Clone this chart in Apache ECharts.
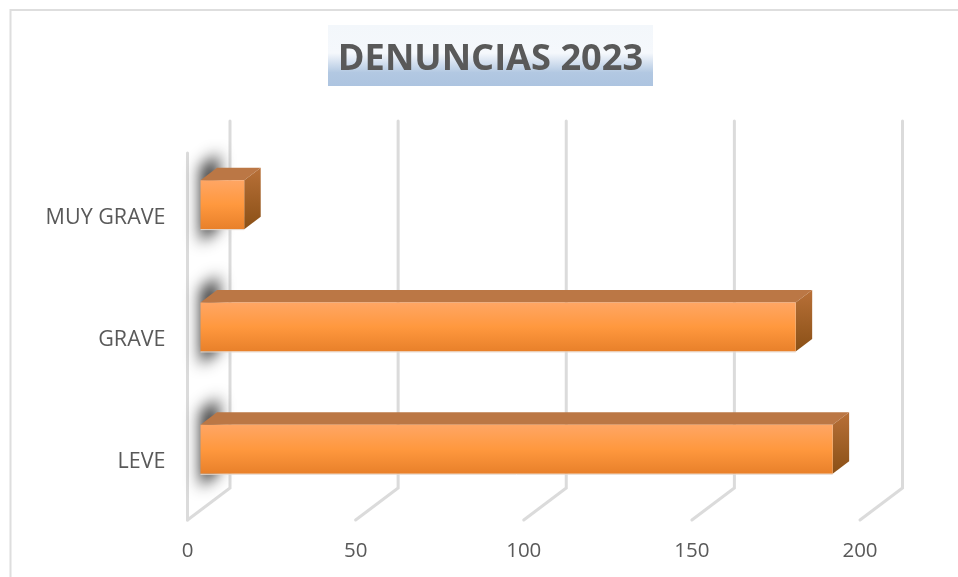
<!DOCTYPE html>
<html><head><meta charset="utf-8">
<style>html,body{margin:0;padding:0;background:#fff}#c{width:958px;height:577px}</style>
<script src="https://cdn.jsdelivr.net/npm/echarts@6/dist/echarts.min.js"></script>
</head><body><div id="c"></div>
<script>
const categories = ['LEVE', 'GRAVE', 'MUY GRAVE'];
const values = [188, 177, 13];
const xTicks = [0, 50, 100, 150, 200];
const titleText = 'DENUNCIAS 2023';

const grad = (x0,y0,x1,y1,stops)=>new echarts.graphic.LinearGradient(x0,y0,x1,y1,stops.map((c,i)=>({offset:c[0],color:c[1]})));
const DX = 42.5, DY = -32;          // full depth of the 3D box
const BX = 13, BY = -9.5;           // front plane of the bars within the box
const TX = 16.5, TY = -12.5;        // bar depth
const OFF = 3000;                   // the blur source sits off canvas, only its shadow shows
const LINE = {stroke:'#dbdbdb', lineWidth:3, lineCap:'round'};

function renderGrid(params, api){
  const v = api.value(0);
  const p = api.coord([v, 0]);
  const cs = params.coordSys;
  const top = cs.y, bottom = cs.y + cs.height;
  const pts = [[p[0], bottom], [p[0]+DX, bottom+DY], [p[0]+DX, top+DY]];
  const children = [{type:'polyline', shape:{points:pts}, style:{...LINE, fill:null}}];
  if (v === 0) children.push({type:'line', shape:{x1:p[0],y1:bottom,x2:p[0],y2:top}, style:LINE});
  return {type:'group', children};
}
function renderBar(params, api){
  const val = api.value(0), cat = api.value(1);
  const p0 = api.coord([0, cat]);
  const p1 = api.coord([val, cat]);
  const band = api.size([0, 1])[1];
  const h = band * 0.4;
  const x0 = p0[0] + BX, x1 = p1[0] + BX;
  const y0 = p0[1] + BY - h/2, y1 = y0 + h;
  const sh = [[x0+18,y0-27],[x0+18,y1-1],[x0,y1+13],[x0,y0-13]].map(q=>[q[0]-OFF,q[1]]);
  return {type:'group', children:[
    {type:'polygon', silent:true, shape:{points:sh},
     style:{fill:'#333', shadowBlur:15, shadowOffsetX:OFF, shadowColor:'rgba(45,45,45,1)'}},
    {type:'polygon', shape:{points:[[x0,y0],[x0+TX,y0+TY],[x1+TX,y0+TY],[x1,y0]]},
     style:{fill:'#bb7745'}},
    {type:'polygon', shape:{points:[[x1,y0],[x1+TX,y0+TY],[x1+TX,y1+TY],[x1,y1]]},
     style:{fill:grad(0,0,0,1,[[0,'#b87038'],[1,'#8a5016']])}},
    {type:'rect', shape:{x:x0,y:y0,width:x1-x0,height:h},
     style:{fill:grad(0,0,0,1,[[0,'#ffa664'],[0.5,'#ff983e'],[1,'#e8802a']])}},
    {type:'line', shape:{x1:x0,y1:y1+0.5,x2:x1,y2:y1+0.5}, style:{stroke:'#e6d8cc',lineWidth:1}}
  ]};
}

const chart = echarts.init(document.getElementById('c'), null, {renderer:'canvas'});
chart.setOption({
  animation:false,
  backgroundColor:'#fff',
  title:{text:titleText, left:485.5, top:37, textAlign:'center',
    textStyle:{fontFamily:'Open Sans', fontWeight:700, fontSize:36.2, color:'#595959'}},
  graphic:[
    {type:'rect', z:-1, silent:true, shape:{x:328,y:25,width:325,height:61},
     style:{fill:grad(0,0,0,1,[[0,'#f3f7fb'],[0.46,'#f5f8fc'],[0.78,'#b2c8e2'],[1,'#adc4e0']])}},
    {type:'polyline', z:-1, silent:true, shape:{points:[[10.5,577],[10.5,10],[958,10]]}, style:{stroke:'#dedede',lineWidth:2,fill:null}}
  ],
  grid:{left:187.5, top:153, width:672.5, height:367, containLabel:false},
  xAxis:{type:'value', min:0, max:200, interval:50,
    axisLine:{show:false}, axisTick:{show:false}, splitLine:{show:false},
    axisLabel:{margin:21, color:'#595959', fontFamily:'Open Sans', fontSize:20.5}},
  yAxis:{type:'category', data:categories,
    axisLine:{show:false}, axisTick:{show:false}, splitLine:{show:false},
    axisLabel:{margin:22, formatter:(v)=>'{a|'+v+'}',
      rich:{a:{color:'#595959', fontFamily:'Open Sans', fontSize:21.5, padding:[7,0,0,0]}}}},
  series:[
    {type:'custom', name:'grid', silent:true, z:1, clip:false, coordinateSystem:'cartesian2d', encode:{x:0},
     renderItem:renderGrid, data:xTicks.map(t=>[t])},
    {type:'custom', name:'Denuncias', z:2, clip:false, coordinateSystem:'cartesian2d', encode:{x:0,y:1},
     renderItem:renderBar, data:values.map((v,i)=>[v,i])}
  ]
});
</script></body></html>
